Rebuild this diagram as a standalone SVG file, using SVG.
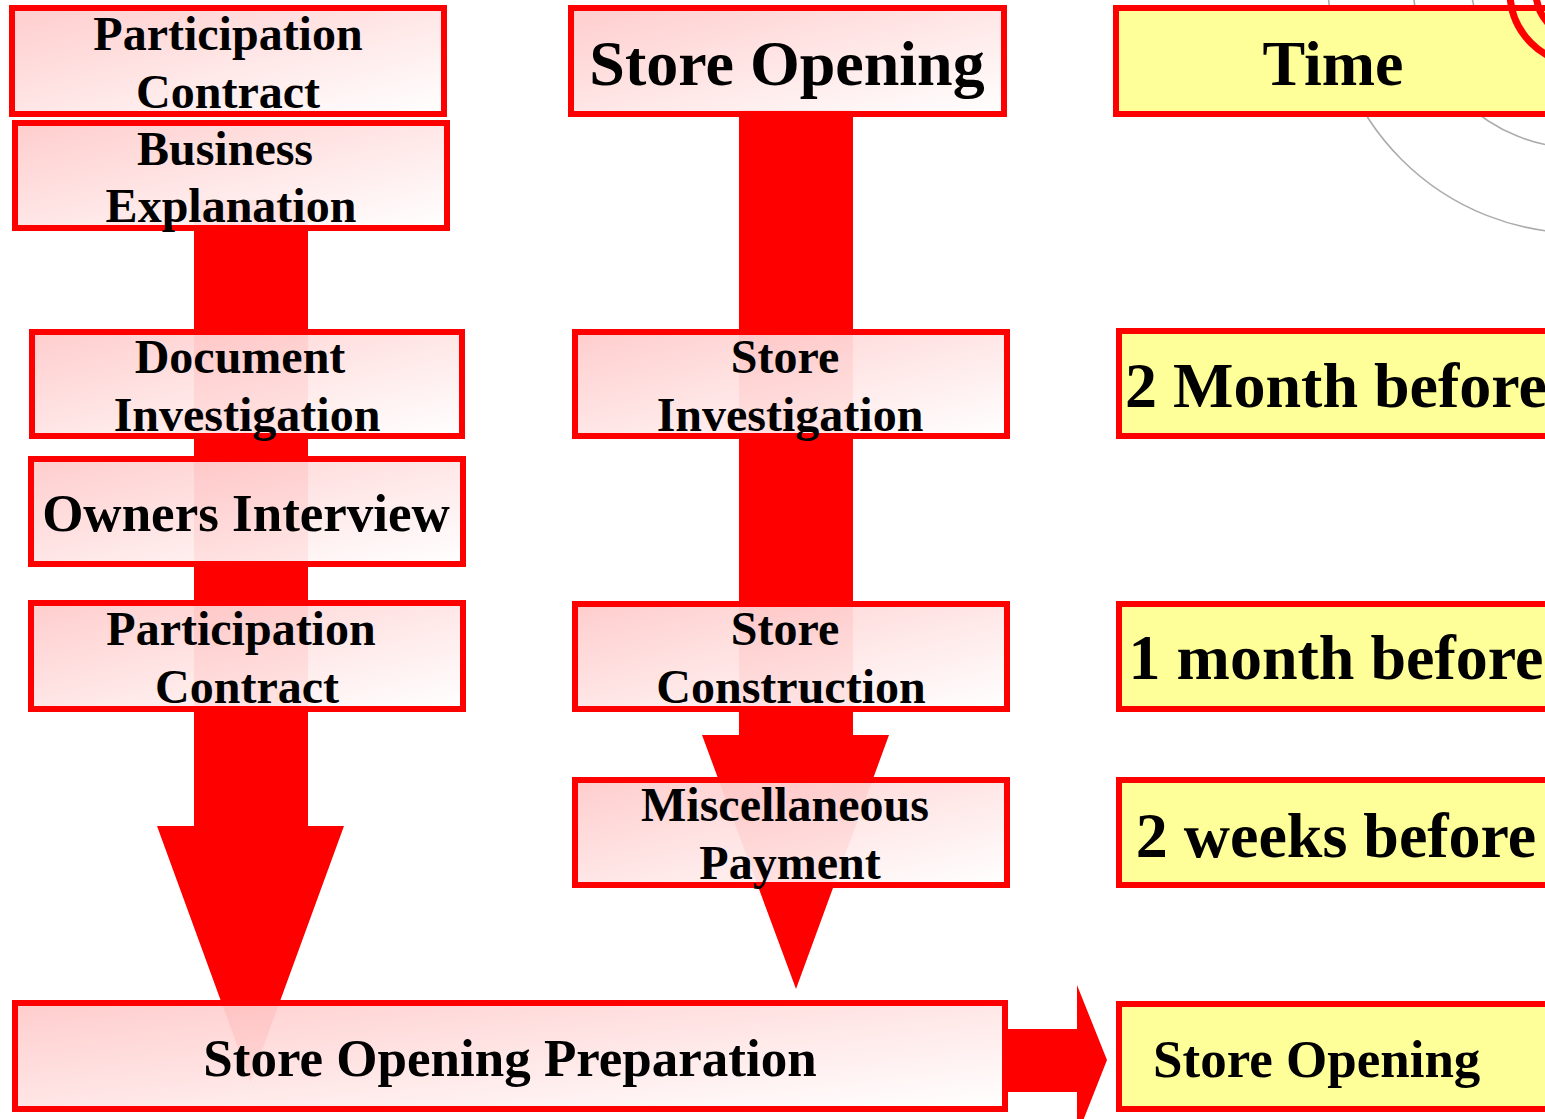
<svg xmlns="http://www.w3.org/2000/svg" width="1545" height="1119" viewBox="0 0 1545 1119">
<defs>
<linearGradient id="pink" x1="0" y1="0" x2="1" y2="1">
<stop offset="0" stop-color="#ffcaca"/>
<stop offset="1" stop-color="#ffffff"/>
</linearGradient>
<style>
.box{fill:url(#pink);fill-opacity:0.94;stroke:#ff0000;stroke-width:6}
.ybox{fill:#ffff99;stroke:#ff0000;stroke-width:6}
.arrow{fill:#ff0000;stroke:none}
.t{font-family:"Liberation Serif","Times New Roman",serif;font-weight:bold;fill:#000;text-anchor:middle}
.s48{font-size:48px}
.s53{font-size:53px}
.s64{font-size:64px}
.ring{fill:none;stroke:#acacac;stroke-width:1.6}
.rring{fill:none;stroke:#ff0000;stroke-width:7}
</style>
</defs>
<rect width="1545" height="1119" fill="#ffffff"/>
<g id="deco">
<circle class="ring" cx="1579" cy="-18" r="251"/>
<circle class="ring" cx="1579" cy="-18" r="166"/>
<circle class="ring" cx="1579" cy="-18" r="108"/>
</g>
<g id="connectors">
<polygon class="arrow" points="194,200 308,200 308,826 344,826 250.5,1082 157,826 194,826"/>
<polygon class="arrow" points="739,110 853,110 853,735 889,735 796,989 702,735 739,735"/>
<polygon class="arrow" points="1006,1029 1077,1029 1077,985 1107,1060 1077,1136 1077,1092 1006,1092"/>
</g>
<g id="n1"><rect class="box" x="12" y="8" width="432" height="106"/>
<text class="t s48" x="228" y="50">Participation</text><text class="t s48" x="228" y="108">Contract</text></g>
<g id="n2"><rect class="box" x="15" y="123" width="432" height="105"/>
<text class="t s48" x="225" y="165">Business</text><text class="t s48" x="231" y="222">Explanation</text></g>
<g id="n3"><rect class="box" x="32" y="332" width="430" height="104"/>
<text class="t s48" x="240" y="373">Document</text><text class="t s48" x="247" y="431">Investigation</text></g>
<g id="n4"><rect class="box" x="31" y="459" width="432" height="105"/>
<text class="t s53" x="246" y="531">Owners Interview</text></g>
<g id="n5"><rect class="box" x="31" y="603" width="432" height="106"/>
<text class="t s48" x="241" y="645">Participation</text><text class="t s48" x="247" y="703">Contract</text></g>
<g id="n6"><rect class="box" x="571" y="8" width="433" height="106"/>
<text class="t s64" x="787" y="85">Store Opening</text></g>
<g id="n7"><rect class="box" x="575" y="332" width="432" height="104"/>
<text class="t s48" x="785" y="373">Store</text><text class="t s48" x="790" y="431">Investigation</text></g>
<g id="n8"><rect class="box" x="575" y="604" width="432" height="105"/>
<text class="t s48" x="785" y="645">Store</text><text class="t s48" x="791" y="703">Construction</text></g>
<g id="n9"><rect class="box" x="575" y="780" width="432" height="105"/>
<text class="t s48" x="785" y="821">Miscellaneous</text><text class="t s48" x="790" y="879">Payment</text></g>
<g id="n10"><rect class="box" x="15" y="1003" width="990" height="106"/>
<text class="t s53" x="510" y="1076">Store Opening Preparation</text></g>
<g id="n11"><rect class="ybox" x="1116" y="8" width="500" height="106"/>
<text class="t s64" x="1333" y="85">Time</text></g>
<g id="n12"><rect class="ybox" x="1119" y="331" width="500" height="105"/>
<text class="t s64" x="1336" y="407">2 Month before</text></g>
<g id="n13"><rect class="ybox" x="1119" y="604" width="500" height="105"/>
<text class="t s64" x="1336" y="679">1 month before</text></g>
<g id="n14"><rect class="ybox" x="1119" y="780" width="500" height="105"/>
<text class="t s64" x="1336" y="857">2 weeks before</text></g>
<g id="n15"><rect class="ybox" x="1119" y="1004" width="500" height="105"/>
<text class="t s53" x="1153" y="1077" style="text-anchor:start">Store Opening</text></g>
<g id="target">
<circle class="rring" cx="1582" cy="-8" r="72"/>
<circle class="rring" cx="1582" cy="-8" r="46"/>
</g>
</svg>
